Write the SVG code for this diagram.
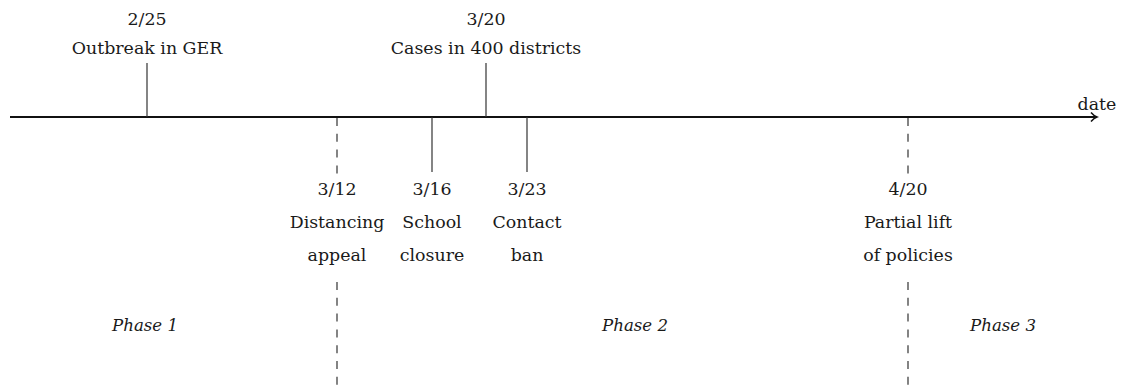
<svg xmlns="http://www.w3.org/2000/svg" width="1123" height="385" viewBox="0 0 1123 385">
<style>
text{font-family:"DejaVu Serif","Liberation Serif",serif;font-size:17.4px;fill:#1a1a1a;text-anchor:middle}
.it{font-style:italic;font-size:16.6px}
.tick{stroke:#333;stroke-width:1.2;fill:none}
.dash{stroke:#333;stroke-width:1.2;fill:none;stroke-dasharray:8 7.8}
</style>
<defs>
<marker id="arr" markerWidth="10" markerHeight="12" refX="8" refY="6" orient="auto" markerUnits="userSpaceOnUse">
<path d="M2,1.5 Q5,5 8,6 Q5,7 2,10.5" fill="none" stroke="#111" stroke-width="1.5"/>
</marker>
</defs>
<g id="connectors">
<line x1="10" y1="117" x2="1097" y2="117" stroke="#111" stroke-width="2" marker-end="url(#arr)"/>
<line class="tick" x1="147" y1="63" x2="147" y2="117"/>
<line class="tick" x1="486" y1="63" x2="486" y2="117"/>
<line class="tick" x1="432" y1="117" x2="432" y2="172"/>
<line class="tick" x1="527" y1="117" x2="527" y2="172"/>
<line class="dash" x1="337" y1="118" x2="337" y2="180"/>
<line class="dash" x1="337" y1="282" x2="337" y2="385"/>
<line class="dash" x1="908" y1="118" x2="908" y2="180"/>
<line class="dash" x1="908" y1="282" x2="908" y2="385"/>
</g>
<g id="axis-label"><text x="1097" y="110">date</text></g>
<g id="e225"><text x="147" y="25">2/25</text><text x="147" y="54">Outbreak in GER</text></g>
<g id="e320"><text x="486" y="25">3/20</text><text x="486" y="54">Cases in 400 districts</text></g>
<g id="e312"><text x="337" y="195">3/12</text><text x="337" y="228">Distancing</text><text x="337" y="261">appeal</text></g>
<g id="e316"><text x="432" y="195">3/16</text><text x="432" y="228">School</text><text x="432" y="261">closure</text></g>
<g id="e323"><text x="527" y="195">3/23</text><text x="527" y="228">Contact</text><text x="527" y="261">ban</text></g>
<g id="e420"><text x="908" y="195">4/20</text><text x="908" y="228">Partial lift</text><text x="908" y="261">of policies</text></g>
<g id="phase1"><text class="it" x="145" y="331">Phase 1</text></g>
<g id="phase2"><text class="it" x="635" y="331">Phase 2</text></g>
<g id="phase3"><text class="it" x="1003" y="331">Phase 3</text></g>
</svg>
